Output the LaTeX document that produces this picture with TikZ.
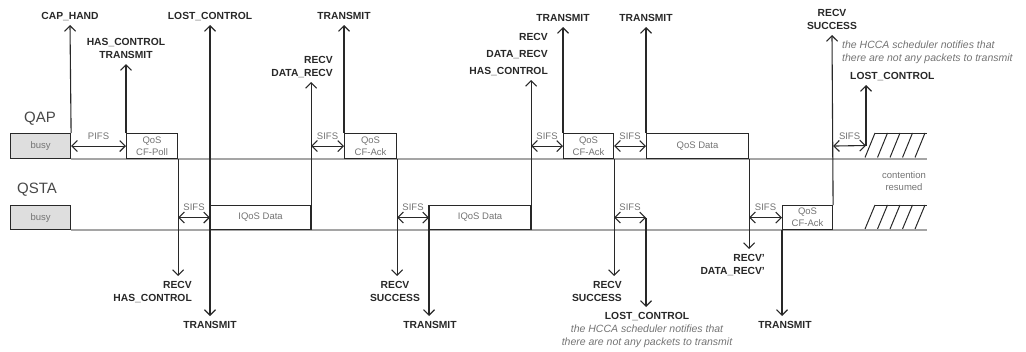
\documentclass[tikz,border=0pt]{standalone}
\usepackage{fontspec}
\setmainfont{Liberation Sans}
\usetikzlibrary{arrows.meta,positioning}
\definecolor{ink}{RGB}{40,40,40}
\definecolor{softink}{RGB}{115,115,115}
\definecolor{busyfill}{RGB}{222,222,222}
\definecolor{lanegray}{RGB}{165,165,165}

\begin{document}
\begin{tikzpicture}[x=1pt, y=-1pt,
  evt/.style={font=\bfseries\fontsize{10.3}{13}\selectfont, text=ink, align=center, inner xsep=1pt, inner ysep=5pt, text depth=0pt},
  gaplbl/.style={font=\fontsize{9.5}{12}\selectfont, text=softink, inner xsep=1pt, inner ysep=6pt},
  frame/.style={draw=ink, line width=1.1pt, minimum height=25, inner sep=0pt, align=center, text=softink, font=\fontsize{9.5}{12}\selectfont},
  busybox/.style={frame, fill=busyfill, minimum width=60},
  remark/.style={font=\itshape\fontsize{10.5}{13}\selectfont, text=softink, inner sep=0pt},
  sig/.style={draw=ink, line width=1.1pt, -{Straight Barb[length=5.5pt,width=11pt]}},
  sifs/.style={sig, {Straight Barb[length=5.5pt,width=11pt]}-{Straight Barb[length=5.5pt,width=11pt]}},
  lane/.style={draw=lanegray, line width=1.8pt},
  hatch/.style={draw=ink, line width=1pt}]
  \useasboundingbox (0,0) rectangle (1026,351);

  % stations
  \node[font=\fontsize{15}{15}\selectfont, text=ink!85, anchor=base west, inner sep=0pt] (qap) at (24,122) {QAP};
  \node[font=\fontsize{15}{15}\selectfont, text=ink!85, anchor=base west, inner sep=0pt] (qsta) at (17,193) {QSTA};

  % time lines
  \node[busybox, anchor=north west] (apBusy) at (10,133) {busy};
  \node[busybox, anchor=north west, minimum height=24] (staBusy) at (10,205) {busy};
  \coordinate (apEnd) at (927,157.5);
  \coordinate (staEnd) at (927,229);
  \draw[lane] (apBusy.south east) -- (apBusy.south east -| apEnd);
  \draw[lane] (staBusy.south east) -- (staBusy.south east -| staEnd);

  % frames
  \node[frame, anchor=north west, minimum width=51] (poll) at (126,133) {QoS\\CF-Poll};
  \node[frame, anchor=north west, minimum width=100, minimum height=24] (staData1) at (210,205) {IQoS Data};
  \node[frame, anchor=north west, minimum width=52] (ack1) at (344,133) {QoS\\CF-Ack};
  \node[frame, anchor=north west, minimum width=101, minimum height=24] (staData2) at (429,205) {IQoS Data};
  \node[frame, anchor=north west, minimum width=50] (ack2) at (563,133) {QoS\\CF-Ack};
  \node[frame, anchor=north west, minimum width=102] (apData) at (646,133) {QoS Data};
  \node[frame, anchor=north west, minimum width=50, minimum height=24] (staAck) at (782,205) {QoS\\CF-Ack};
  \coordinate (apIdle) at (866,145.5);

  % interframe spaces
  \draw[sifs] (apBusy.east) -- node[gaplbl, above] (pifs) {PIFS} (poll.west);
  \draw[sifs] (poll.east |- staData1.west) -- node[gaplbl, above] (sifsA) {SIFS} (staData1.west);
  \draw[sifs] (staData1.east |- ack1.west) -- node[gaplbl, above] (sifsB) {SIFS} (ack1.west);
  \draw[sifs] (ack1.east |- staData2.west) -- node[gaplbl, above] (sifsC) {SIFS} (staData2.west);
  \draw[sifs] (staData2.east |- ack2.west) -- node[gaplbl, above] (sifsD) {SIFS} (ack2.west);
  \draw[sifs] (ack2.east) -- node[gaplbl, above] (sifsE) {SIFS} (apData.west);
  \draw[sifs] (ack2.east |- staAck.west) -- node[gaplbl, above] (sifsF) {SIFS} (apData.west |- staAck.west);
  \draw[sifs] (apData.east |- staAck.west) -- node[gaplbl, above] (sifsG) {SIFS} (staAck.west);
  \draw[sifs] (staAck.east |- apData.west) -- node[gaplbl, above] (sifsH) {SIFS} (apIdle);

  % events above QAP
  \node[evt, anchor=south] (capHand) at (70,25) {CAP\_HAND};
  \node[evt, anchor=south] (hasCtrl) at (126,64) {HAS\_CONTROL\\TRANSMIT};
  \node[evt, anchor=south] (lostA) at (210,25) {LOST\_CONTROL};
  \node[evt, anchor=south east, align=right] (recvA) at (334,82) {RECV\\DATA\_RECV};
  \node[evt, anchor=south] (sendB) at (344,25) {TRANSMIT};
  \node[evt, anchor=south east, align=right] (recvB) at (549,80) {RECV\\[4pt]DATA\_RECV\\[4pt]HAS\_CONTROL};
  \node[evt, anchor=south] (sendD) at (563,27) {TRANSMIT};
  \node[evt, anchor=south] (sendE) at (646,27) {TRANSMIT};
  \node[evt, anchor=south] (succC) at (832,35) {RECV\\SUCCESS};
  \node[evt, anchor=south west] (lostC) at (849,85) {LOST\_CONTROL};
  \node[remark, align=left, anchor=north west] (noteC) at (842,41) {the HCCA scheduler notifies that\\there are not any packets to transmit};

  % events below QSTA
  \node[evt, anchor=north east, align=right] (recvHas) at (193,276) {RECV\\HAS\_CONTROL};
  \node[evt, anchor=north] (sendA) at (210,316) {TRANSMIT};
  \node[evt, anchor=north] (succA) at (395,276) {RECV\\SUCCESS};
  \node[evt, anchor=north] (sendC) at (430,316) {TRANSMIT};
  \node[evt, anchor=north east, align=right] (succB) at (623,276) {RECV\\SUCCESS};
  \node[evt, anchor=north] (lostB) at (647,307) {LOST\_CONTROL};
  \node[remark, align=center, below=0pt of lostB] (noteB) {the HCCA scheduler notifies that\\there are not any packets to transmit};
  \node[evt, anchor=north east, align=right] (recvC) at (766,249) {RECV'\\DATA\_RECV'};
  \node[evt, anchor=north] (sendF) at (785,316) {TRANSMIT};

  % signals
  \draw[sig] (apBusy.north east) -- (capHand.south);
  \draw[sig] (poll.north west) -- (hasCtrl.south);
  \draw[sig] (poll.south east) -- (poll.south east |- recvHas.north);
  \draw[sig] (staData1.north west) -- (lostA.south);
  \draw[sig] (staData1.north west) -- (sendA.north);
  \draw[sig] (staData1.south east) -- (staData1.south east |- recvA.south);
  \draw[sig] (ack1.north west) -- (sendB.south);
  \draw[sig] (ack1.south east) -- (ack1.south east |- succA.north);
  \draw[sig] (staData2.north west) -- (staData2.north west |- sendC.north);
  \draw[sig] (staData2.south east) -- (staData2.south east |- recvB.south);
  \draw[sig] (ack2.north west) -- (ack2.north west |- sendD.south);
  \draw[sig] (ack2.south east) -- (ack2.south east |- succB.north);
  \draw[sig] (apData.north west) -- (sendE.south);
  \draw[sig] (apData.west |- staAck.west) -- (apData.west |- lostB.north);
  \draw[sig] (apData.south east) -- (apData.south east |- recvC.north);
  \draw[sig] (staAck.south west) -- (staAck.south west |- sendF.north);
  \draw[sig] (staAck.north east) -- (succC.south);
  \draw[sig] (apIdle) -- (apIdle |- lostC.south);

  % contention resumed
  \foreach \top/\bot in {133/157.5, 205/229} {
    \foreach \i in {0,...,4}
      \draw[hatch] ({865+12.5*\i},\bot) -- ({875+12.5*\i},\top);
    \draw[hatch] (875,\top) -- (927,\top);
  }
  \node[gaplbl, align=center, inner sep=0pt] (resumed) at (904,181) {contention\\resumed};
\end{tikzpicture}
\end{document}
